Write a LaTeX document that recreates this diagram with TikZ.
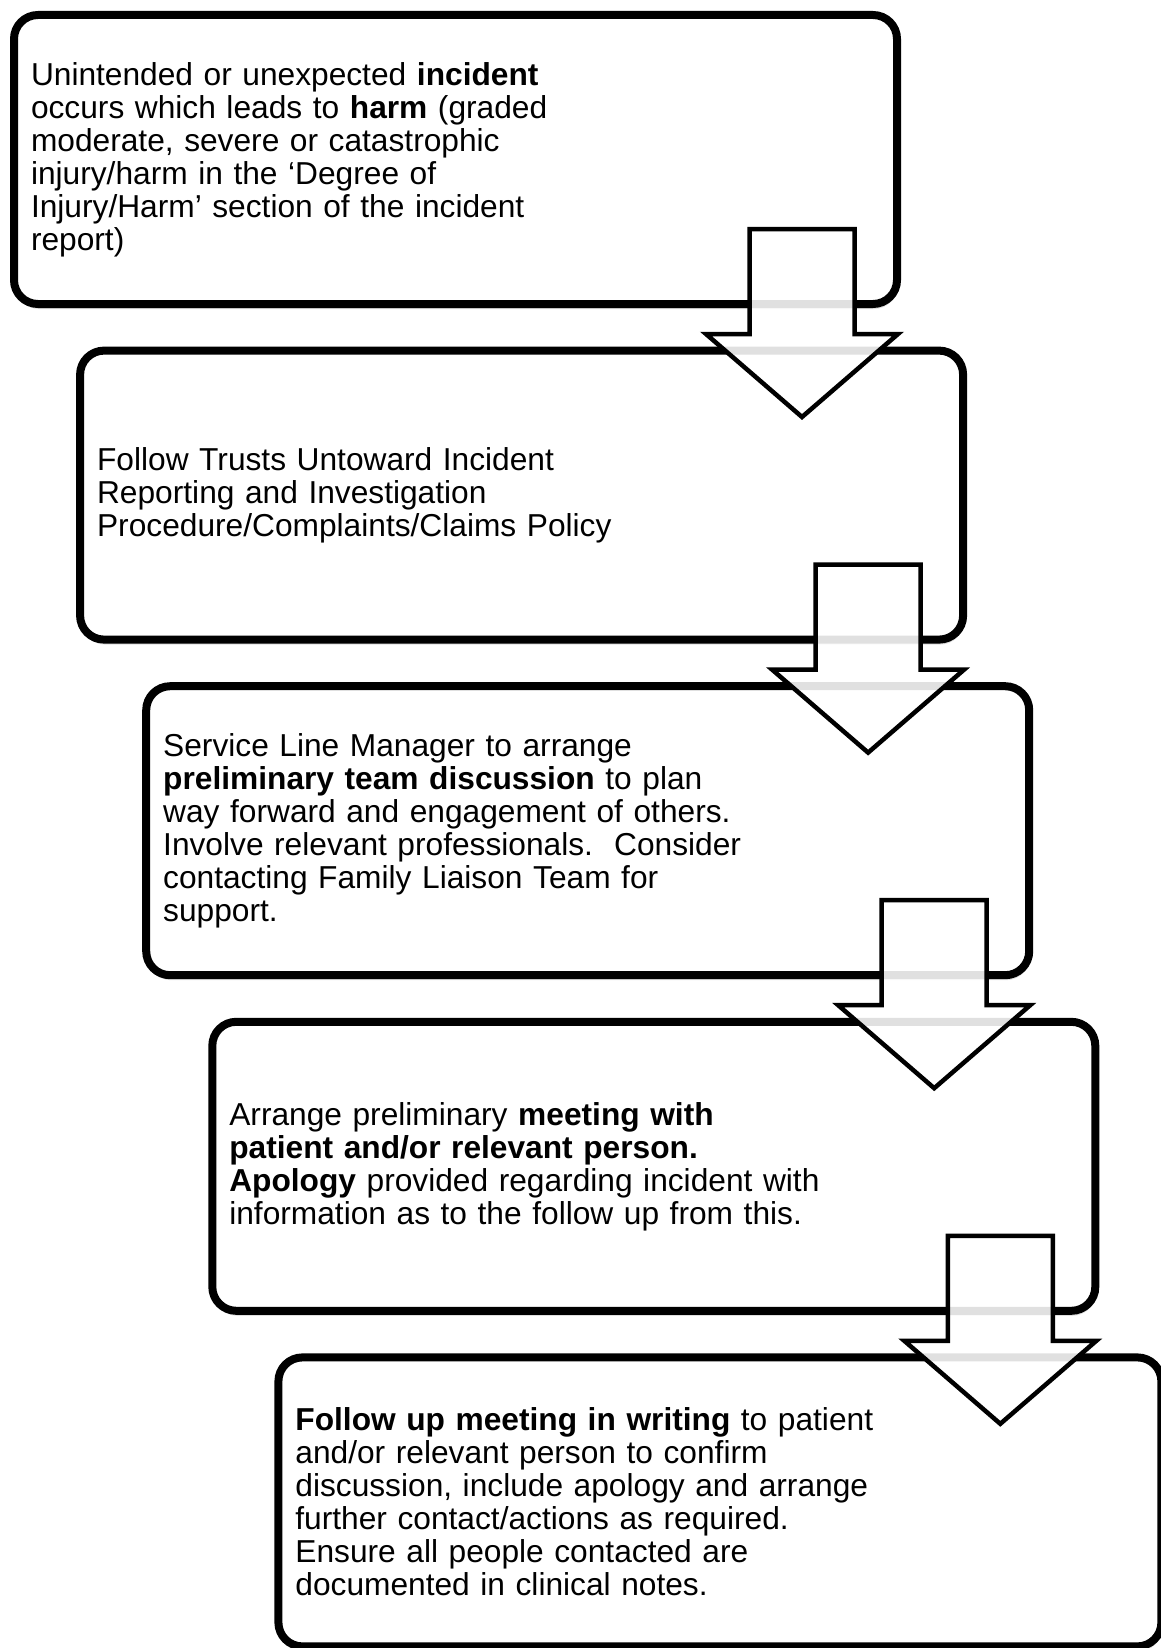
\documentclass[tikz,border=0pt]{standalone}
\usepackage{fontspec}
\setmainfont{Liberation Sans}
\usepackage{tikz}
\usetikzlibrary{positioning, shadows}

\begin{document}
\begin{tikzpicture}[
            box/.style={rectangle, draw, line width=8pt, rounded corners=24pt, fill=white,
                minimum width=883pt, minimum height=289pt, text width=849pt, inner sep=17pt,
                outer sep=0pt, align=left, font=\fontsize{31.7}{33}\selectfont,
                drop shadow={opacity=0.25, shadow xshift=1pt, shadow yshift=-5pt}},
            flowarrow/.style={draw, line width=4.5pt, fill=white, fill opacity=0.88},
            node distance=46.6pt
        ]

        \useasboundingbox (0,0) rectangle (1161pt,-1648pt);

        \node[box] (incident) at (455.5pt,-159.5pt) {Unintended or unexpected \textbf{incident}\\
            occurs which leads to \textbf{harm} (graded\\
            moderate, severe or catastrophic\\
            injury/harm in the ‘Degree of\\
            Injury/Harm’ section of the incident\\
            report)};
        \node[box, below=of incident, xshift=66.1pt] (policy) {Follow Trusts Untoward Incident\\
            Reporting and Investigation\\
            Procedure/Complaints/Claims Policy};
        \node[box, below=of policy, xshift=66.1pt] (discussion) {Service Line Manager to arrange\\
            \textbf{preliminary team discussion} to plan\\
            way forward and engagement of others.\\
            Involve relevant professionals.\ \ Consider\\
            contacting Family Liaison Team for\\
            support.};
        \node[box, below=of discussion, xshift=66.1pt] (meeting) {Arrange preliminary \textbf{meeting with}\\
            \textbf{patient and/or relevant person.}\\
            \textbf{Apology} provided regarding incident with\\
            information as to the follow up from this.};
        \node[box, below=of meeting, xshift=66.1pt] (writing) {\textbf{Follow up meeting in writing} to patient\\
            and/or relevant person to confirm\\
            discussion, include apology and arrange\\
            further contact/actions as required.\\
            Ensure all people contacted are\\
            documented in clinical notes.};

        % block arrows over the boxes
        \foreach \b in {incident, policy, discussion, meeting}
            \draw[flowarrow] ([xshift=-147.5pt, yshift=-214pt]\b.north east) -- ++(105pt,0) -- ++(0,-105pt)
                -- ++(43.5pt,0) -- ++(-96pt,-83pt) -- ++(-96pt,83pt) -- ++(43.5pt,0) -- cycle;

    \end{tikzpicture}
\end{document}
